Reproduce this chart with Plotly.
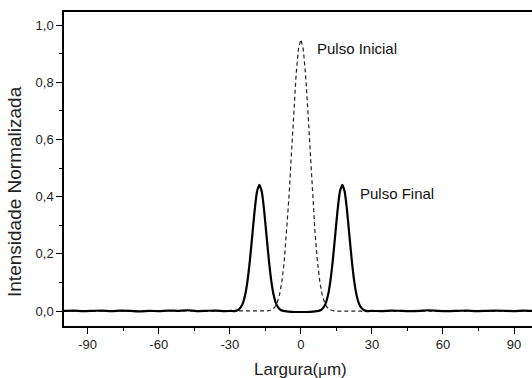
import plotly.graph_objects as go

# Pulso Inicial (dashed)
x_inicial = [-100, -80, -60, -40, -30, -20, -16, -14, -13, -12, -11, -10, -9, -8, -7, -6, -5, -4, -3, -2, -1,
             0, 1, 2, 3, 4, 5, 6, 7, 8, 9, 10, 11, 12, 13, 14, 16, 20, 30, 40, 60, 80, 100]
y_inicial = [0.0, 0.0, 0.0, 0.0, 0.0, 0.0, 0.0, 0.001, 0.003, 0.006, 0.014, 0.030, 0.057, 0.104, 0.174, 0.273, 0.400, 0.546, 0.696, 0.827, 0.918,
             0.950, 0.918, 0.827, 0.696, 0.546, 0.400, 0.273, 0.174, 0.104, 0.057, 0.030, 0.014, 0.006, 0.003, 0.001, 0.0, 0.0, 0.0, 0.0, 0.0, 0.0, 0.0]

# Pulso Final (solid)
x_final = [-100, -96, -92, -88, -84, -80, -76, -72, -68, -64, -60, -56, -52, -48, -44, -40, -36, -32, -29.5,
           -28.5, -27.5, -26.5, -25.5, -24.5, -23.5, -22.5, -21.5, -20.5, -19.5, -18.5, -17.5, -16.5, -15.5, -14.5,
           -13.5, -12.5, -11.5, -10.5, -9.5, -8.5, -7.5, -6.5,
           -5, -2.5, 0, 2.5, 5,
           6.5, 7.5, 8.5, 9.5, 10.5, 11.5, 12.5, 13.5, 14.5, 15.5, 16.5, 17.5, 18.5, 19.5, 20.5, 21.5, 22.5,
           23.5, 24.5, 25.5, 26.5, 27.5, 28.5,
           30, 34, 38, 42, 46, 50, 54, 58, 62, 66, 70, 74, 78, 82, 86, 90, 94, 98]
y_final = [0.001, 0.002, 0.000, 0.001, 0.002, 0.000, 0.002, 0.001, -0.001, 0.001, 0.000, 0.002, 0.001, 0.003, 0.000, 0.001, 0.002, 0.000, 0.001,
           0.000, 0.001, 0.004, 0.012, 0.027, 0.057, 0.107, 0.178, 0.265, 0.352, 0.418, 0.442, 0.418, 0.352, 0.265,
           0.178, 0.107, 0.057, 0.027, 0.012, 0.004, 0.001, 0.000,
           -0.002, -0.003, -0.003, -0.003, -0.002,
           0.000, 0.001, 0.004, 0.012, 0.027, 0.057, 0.107, 0.178, 0.265, 0.352, 0.418, 0.442, 0.418, 0.352, 0.265,
           0.178, 0.107, 0.057, 0.027, 0.012, 0.004, 0.001, 0.000,
           0.001, 0.000, 0.002, 0.001, 0.000, 0.001, 0.003, 0.001, 0.000, 0.001, 0.002, 0.000, 0.001, 0.002, 0.001, 0.000, 0.002, 0.001]

x_tick_vals = [-90, -60, -30, 0, 30, 60, 90]
x_tick_labels = ["-90", "-60", "-30", "0", "30", "60", "90"]
y_tick_vals = [0.0, 0.2, 0.4, 0.6, 0.8, 1.0]
y_tick_labels = ["0,0", "0,2", "0,4", "0,6", "0,8", "1,0"]

font_family = "Liberation Sans, Arial, sans-serif"

fig = go.Figure()
fig.add_trace(go.Scatter(x=x_inicial, y=y_inicial, mode="lines",
                         line=dict(color="#222222", width=1.2, dash="4px,3px"),
                         showlegend=False, hoverinfo="skip"))
fig.add_trace(go.Scatter(x=x_final, y=y_final, mode="lines",
                         line=dict(color="#000000", width=2.2, shape="spline", smoothing=0.6),
                         showlegend=False, hoverinfo="skip"))

fig.add_annotation(x=6.0, y=0.92, text="Pulso Inicial", showarrow=False, xanchor="left", yanchor="middle",
                   font=dict(family=font_family, size=15, color="#111111"))
fig.add_annotation(x=24.2, y=0.413, text="Pulso Final", showarrow=False, xanchor="left", yanchor="middle",
                   font=dict(family=font_family, size=15, color="#111111"))

# axis titles
fig.add_annotation(xref="paper", yref="paper", x=-0.1047, y=0.4268, text="Intensidade Normalizada",
                   textangle=-90, showarrow=False, xanchor="center", yanchor="middle",
                   font=dict(family=font_family, size=19, color="#222222"))
fig.add_annotation(xref="paper", yref="paper", x=0.5053, y=-0.1401,
                   text="Largura(<span style='font-size:15px'>μ</span>m)",
                   showarrow=False, xanchor="center", yanchor="middle",
                   font=dict(family=font_family, size=17, color="#222222"))

fig.update_layout(
    width=532, height=378,
    margin=dict(l=64, r=0, t=12, b=52, autoexpand=False),
    paper_bgcolor="white", plot_bgcolor="white",
    font=dict(family=font_family, color="#222222"),
    showlegend=False,
)
fig.update_xaxes(
    range=[-100, 97.6], tickvals=x_tick_vals, ticktext=x_tick_labels, automargin=False,
    showline=True, linecolor="black", linewidth=1.5, mirror=True,
    ticks="outside", ticklen=6, tickwidth=1.3, tickcolor="black",
    minor=dict(dtick=15, tick0=-15, ticks="outside", ticklen=3, tickwidth=1.3, tickcolor="black"),
    showgrid=False, zeroline=False,
    tickfont=dict(size=13, color="#222222"),
)
fig.update_yaxes(
    range=[-0.052, 1.046], tickvals=y_tick_vals, ticktext=y_tick_labels, automargin=False,
    showline=True, linecolor="black", linewidth=1.5, mirror=False,
    ticks="outside", ticklen=6, tickwidth=1.3, tickcolor="black",
    minor=dict(dtick=0.1, tick0=0.1, ticks="outside", ticklen=3, tickwidth=1.3, tickcolor="black"),
    showgrid=False, zeroline=False,
    tickfont=dict(size=13, color="#222222"),
)

fig.write_html("out.html", config={"displayModeBar": False},
               post_script="document.body.style.margin='0';document.body.style.overflow='hidden';")
